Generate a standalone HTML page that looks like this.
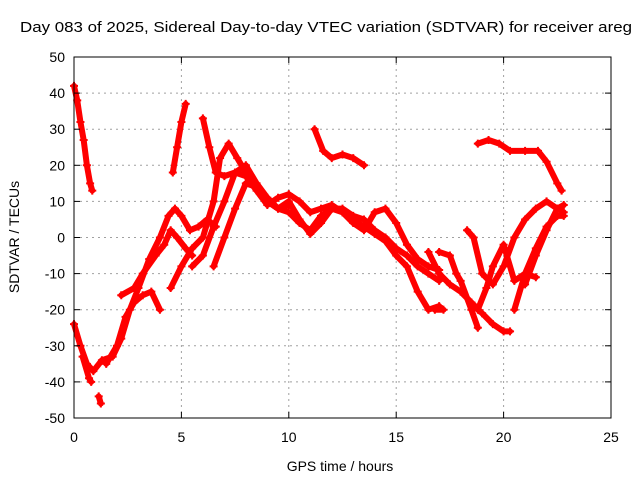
<!DOCTYPE html>
<html><head><meta charset="utf-8"><style>
body{margin:0;background:#fff;}
svg text{font-family:"Liberation Sans",sans-serif;font-size:14px;fill:#000;}
</style></head><body>
<svg id="chart" width="640" height="480" viewBox="0 0 640 480">
<rect width="640" height="480" fill="#fff"/>
<text x="20" y="32" textLength="612" lengthAdjust="spacingAndGlyphs" style="font-size:15px">Day 083 of 2025, Sidereal Day-to-day VTEC variation (SDTVAR) for receiver areg</text>
<g id="grid"></g><g id="marks"></g><g id="axes"></g>
<text x="340" y="471" text-anchor="middle">GPS time / hours</text>
<text transform="translate(19,237) rotate(-90)" text-anchor="middle">SDTVAR / TECUs</text>
</svg>
<script>
const xTicks=[0,5,10,15,20,25];
const yTicks=[-50,-40,-30,-20,-10,0,10,20,30,40,50];
const seriesA=[[0,42],[0.15,38],[0.3,32],[0.45,27],[0.6,20],[0.75,15],[0.85,13]];
const seriesB=[[0,-24],[0.3,-30],[0.6,-35],[0.9,-37],[1.3,-34],[1.8,-33],[2.2,-28],[2.6,-20],[3,-14],[3.5,-6],[4,0],[4.4,6],[4.7,8],[5,6],[5.4,2],[5.8,3],[6.2,5],[6.6,3]];
const seriesB2=[[0.4,-33],[0.7,-39],[0.8,-40]];
const seriesB3=[[1.15,-44],[1.25,-46]];
const seriesC=[[1.5,-35],[2,-30],[2.4,-22],[2.8,-18],[3.2,-16],[3.6,-15],[4,-20]];
const seriesD=[[2.2,-16],[2.8,-14],[3.2,-10],[3.8,-5],[4.2,-2],[4.5,2],[4.8,0],[5.2,-3],[5.5,-5]];
const seriesE=[[4.5,-14],[5,-8],[5.5,-3],[6,0],[6.5,10],[6.8,22],[7.2,26],[7.6,22],[8,18],[8.5,14],[9,10],[9.5,8],[10,9]];
const seriesF=[[5.5,-8],[6,-5],[6.5,3],[7,10],[7.5,18],[8,20],[8.5,15],[9,11],[9.5,8],[10,7],[10.5,4],[11,2],[11.5,6],[12,8],[12.5,7],[13,5],[13.5,3],[14,1],[14.5,-1],[15,-5],[15.5,-8],[16,-15],[16.5,-20],[17,-19]];
const seriesG=[[4.6,18],[4.8,25],[5,32],[5.2,37]];
const seriesH=[[6,33],[6.3,25],[6.6,18],[7,17],[7.5,18],[8,17],[8.5,13],[9,9],[9.5,11],[10,12],[10.5,10],[11,7],[11.5,8],[12,9],[12.5,7],[13,4],[13.5,2],[14,7],[14.5,8],[15,4],[15.5,-2],[16,-6],[16.5,-8],[17,-9]];
const seriesI=[[11.2,30],[11.6,24],[12,22],[12.5,23],[13,22],[13.5,20]];
const seriesJ=[[6.5,-8],[7,0],[7.5,8],[8,15],[8.5,14],[9,10],[9.5,8],[10,10],[10.5,5],[11,1],[11.5,4],[12,8],[12.5,8],[13,6],[13.5,5],[14,2],[14.5,0],[15,-3],[15.5,-5],[16,-8],[16.5,-10],[17,-12]];
const seriesK=[[17,-4],[17.5,-5],[17.8,-10],[18,-12],[18.5,-20],[18.8,-25]];
const seriesL=[[16.5,-4],[17,-10],[17.5,-13],[18,-15],[18.5,-18],[19,-21],[19.5,-24],[20,-26],[20.3,-26]];
const seriesM=[[18.3,2],[18.6,0],[19,-10],[19.5,-13],[20,-8],[20.5,0],[21,5],[21.5,8],[22,10],[22.5,8],[22.8,7]];
const seriesN=[[18.8,-20],[19.2,-14],[19.5,-8],[20,-2],[20.5,-12],[21,-10],[21.5,-11]];
const seriesO=[[20.5,-20],[21,-10],[21.5,-3],[22,3],[22.5,6],[22.8,6]];
const seriesP=[[21,-13],[21.5,-5],[22,2],[22.5,8],[22.8,9]];
const seriesQ=[[18.8,26],[19.3,27],[19.8,26],[20.3,24],[21,24],[21.6,24],[22,21],[22.5,15],[22.7,13]];
const seriesR=[[16.8,-20],[17.2,-20]];
const allSeries=[seriesA,seriesB,seriesB2,seriesB3,seriesC,seriesD,seriesE,seriesF,seriesG,seriesH,seriesI,seriesJ,seriesK,seriesL,seriesM,seriesN,seriesO,seriesP,seriesQ,seriesR];
const X0=74,X1=611,Y0=418,Y1=57;
function xs(t){return X0+(t-0)/25*(X1-X0);}
function ys(v){return Y0-(v+50)/100*(Y0-Y1);}
const NS="http://www.w3.org/2000/svg";
function mk(tag,attrs,parent){const e=document.createElementNS(NS,tag);for(const k in attrs)e.setAttribute(k,attrs[k]);parent.appendChild(e);return e;}
const grid=document.getElementById('grid'),axes=document.getElementById('axes'),marks=document.getElementById('marks');
xTicks.forEach(t=>{
  if(t>0&&t<25){const g=mk('line',{x1:xs(t),x2:xs(t),y1:Y1,y2:Y0,stroke:'#a0a0a0','stroke-dasharray':'2,4'},grid);
  
  }
  mk('line',{x1:xs(t),x2:xs(t),y1:Y0,y2:Y0-6,stroke:'#000'},axes);
  mk('line',{x1:xs(t),x2:xs(t),y1:Y1,y2:Y1+6,stroke:'#000'},axes);
  const l=mk('text',{x:xs(t),y:Y0+24,'text-anchor':'middle'},axes);l.textContent=t;
  
  
});
yTicks.forEach(v=>{
  if(v>-50&&v<50){const g=mk('line',{x1:X0,x2:X1,y1:ys(v),y2:ys(v),stroke:'#a0a0a0','stroke-dasharray':'2,4'},grid);
  
  }
  mk('line',{x1:X0,x2:X0+6,y1:ys(v),y2:ys(v),stroke:'#000'},axes);
  mk('line',{x1:X1,x2:X1-6,y1:ys(v),y2:ys(v),stroke:'#000'},axes);
  const l=mk('text',{x:X0-9,y:ys(v)+5,'text-anchor':'end'},axes);l.textContent=v;
  
  
});
const fr=mk('rect',{x:X0,y:Y1,width:X1-X0,height:Y0-Y1,fill:'none',stroke:'#000'},axes);


allSeries.forEach((s,i)=>{
  const pl=mk('polyline',{points:s.map(p=>xs(p[0])+','+ys(p[1])).join(' '),fill:'none',stroke:'#f00','stroke-width':6,'stroke-linejoin':'round','stroke-linecap':'round'},marks);
  
  
  s.forEach(p=>{
    const x=xs(p[0]),y=ys(p[1]);
    const m=mk('path',{d:`M${x-4},${y}h8M${x},${y-4}v8`,stroke:'#f00','stroke-width':2},marks);
    
    
  });
});
</script>
</body></html>
